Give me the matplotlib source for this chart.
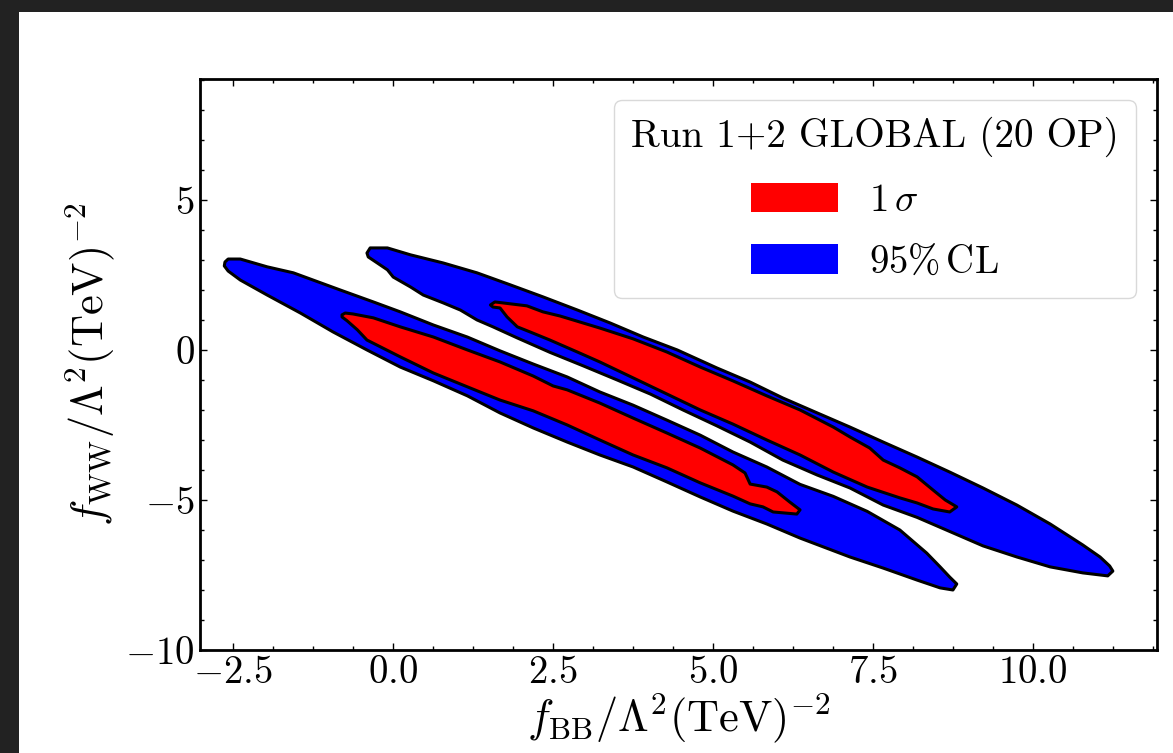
import matplotlib
matplotlib.use("Agg")
import matplotlib.pyplot as plt
from matplotlib.patches import Patch, Rectangle
from matplotlib.ticker import FixedLocator, AutoMinorLocator, MultipleLocator

# ---------------- data ----------------
# left solution, 95% CL region (f_BB, f_WW)
left95_x = [-2.63, -2.58, -2.39, -1.97, -1.56, -0.83, -0.31, 0.11, 0.63, 1.16, 1.67, 2.19, 2.72,
            3.23, 3.75, 4.28, 4.80, 5.31, 5.84, 6.36, 6.88, 7.41, 7.92, 8.34, 8.55, 8.70, 8.81,
            8.75, 8.55, 8.19, 7.66, 7.14, 6.36, 5.84, 5.31, 4.80, 4.28, 3.75, 3.23, 2.72, 2.19,
            1.67, 1.16, 0.63, 0.11, -0.41, -0.94, -1.45, -1.97, -2.39, -2.58, -2.64]
left95_y = [2.93, 3.03, 3.03, 2.77, 2.57, 2.00, 1.60, 1.27, 0.83, 0.43, -0.03, -0.47, -0.90,
            -1.40, -1.84, -2.34, -2.84, -3.40, -3.90, -4.48, -4.88, -5.38, -6.00, -6.77, -7.23, -7.57, -7.80,
            -8.00, -7.93, -7.67, -7.27, -6.90, -6.27, -5.80, -5.37, -4.90, -4.40, -3.90, -3.50, -3.07, -2.60,
            -2.10, -1.53, -1.03, -0.57, 0.00, 0.60, 1.23, 1.83, 2.33, 2.63, 2.80]

# left solution, 1 sigma region
left1s_x = [-0.80, -0.75, -0.63, -0.31, 0.11, 0.63, 1.16, 1.67, 2.19, 2.50, 2.72, 3.23, 3.75,
            4.28, 4.80, 5.31, 5.50, 5.58, 5.84, 6.00, 6.20, 6.36,
            6.31, 5.94, 5.78, 5.58, 5.31, 4.80, 4.28, 3.75, 3.23, 2.72, 2.19, 1.67, 1.16,
            0.63, 0.11, -0.41, -0.56, -0.72, -0.80]
left1s_y = [1.17, 1.23, 1.20, 1.07, 0.77, 0.43, 0.00, -0.40, -0.87, -1.20, -1.33, -1.77, -2.27,
            -2.77, -3.27, -3.83, -4.10, -4.47, -4.57, -4.73, -5.07, -5.33,
            -5.47, -5.40, -5.23, -5.13, -4.87, -4.43, -3.93, -3.50, -3.00, -2.50, -2.03, -1.67, -1.23,
            -0.77, -0.23, 0.33, 0.67, 0.97, 1.10]

# right solution, 95% CL region
right95_x = [-0.41, -0.36, -0.09, 0.27, 0.78, 1.31, 1.83, 2.34, 2.88, 3.39, 3.91, 4.44, 5.06,
             5.58, 6.09, 6.63, 7.14, 7.66, 8.19, 8.70, 9.22, 9.75, 10.27, 10.78, 11.05, 11.20, 11.25,
             11.17, 10.78, 10.27, 9.75, 9.22, 8.70, 8.19, 7.66, 7.14, 6.63, 6.09, 5.58, 5.06,
             4.53, 4.02, 3.50, 2.97, 2.45, 1.94, 1.56, 1.31, 1.05, 0.78, 0.47, 0.27, 0.00,
             -0.09, -0.25, -0.39]
right95_y = [3.23, 3.40, 3.40, 3.17, 2.90, 2.57, 2.17, 1.77, 1.33, 0.90, 0.43, 0.00, -0.60,
             -1.07, -1.60, -2.10, -2.57, -3.07, -3.57, -4.07, -4.60, -5.17, -5.80, -6.50, -6.90, -7.20, -7.37,
             -7.53, -7.43, -7.23, -6.90, -6.53, -6.05, -5.58, -5.17, -4.60, -4.17, -3.67, -3.07, -2.53,
             -2.00, -1.47, -1.00, -0.53, -0.08, 0.40, 0.77, 1.00, 1.33, 1.57, 1.83, 2.10, 2.43,
             2.67, 2.90, 3.10]

# right solution, 1 sigma region
right1s_x = [1.52, 1.59, 2.09, 2.34, 2.61, 3.23, 3.75, 4.28, 4.80, 5.31, 5.84, 6.36, 6.88,
             7.14, 7.45, 7.66, 7.92, 8.19, 8.44, 8.63, 8.81,
             8.70, 8.44, 8.19, 7.92, 7.41, 6.88, 6.36, 5.84, 5.31, 4.80, 4.28, 3.75, 3.23,
             2.88, 2.45, 2.14, 1.94, 1.78, 1.67, 1.56]
right1s_y = [1.50, 1.60, 1.47, 1.27, 1.13, 0.73, 0.37, -0.07, -0.57, -1.03, -1.53, -2.00, -2.57,
             -2.90, -3.27, -3.67, -3.93, -4.23, -4.67, -5.00, -5.23,
             -5.40, -5.30, -5.10, -4.93, -4.57, -4.07, -3.50, -3.00, -2.47, -2.00, -1.47, -0.93, -0.40,
             -0.07, 0.33, 0.60, 0.77, 1.10, 1.40, 1.43]

x_ticks = [-2.5, 0.0, 2.5, 5.0, 7.5, 10.0]
x_tick_labels = [r"$-2.5$", r"$0.0$", r"$2.5$", r"$5.0$", r"$7.5$", r"$10.0$"]
y_ticks = [-10, -5, 0, 5]
y_tick_labels = [r"$-10$", r"$-5$", r"$0$", r"$5$"]

legend_title = "Run 1+2 GLOBAL (20 OP)"
legend_labels = [r"$1\,\sigma$", r"$95\%\,\mathrm{CL}$"]
color_1s = "#ff0000"
color_95 = "#0000ff"

# ---------------- style ----------------
plt.rcParams["font.family"] = "serif"
plt.rcParams["font.serif"] = ["cmr10", "DejaVu Serif"]
plt.rcParams["mathtext.fontset"] = "cm"
plt.rcParams["axes.unicode_minus"] = False

W, H = 1173, 753
fig = plt.figure(figsize=(W / 100, H / 100), dpi=100, facecolor="#222222")
bg = Rectangle((19 / W, 0), 1, 1 - 12 / H, transform=fig.transFigure,
               facecolor="white", edgecolor="none", zorder=-10)
fig.patches.append(bg)

ax = fig.add_axes([200 / W, (H - 650) / H, (1157 - 200) / W, (650 - 79) / H])
ax.set_zorder(1)
ax.patch.set_facecolor("white")

for xs, ys, col in [(left95_x, left95_y, color_95), (right95_x, right95_y, color_95),
                    (left1s_x, left1s_y, color_1s), (right1s_x, right1s_y, color_1s)]:
    ax.fill(xs, ys, facecolor=col, edgecolor="black", linewidth=2.2, joinstyle="round")

ax.set_xlim(-3.02, 11.94)
ax.set_ylim(-10, 9.03)

ax.xaxis.set_major_locator(FixedLocator(x_ticks))
ax.set_xticklabels(x_tick_labels)
ax.xaxis.set_minor_locator(AutoMinorLocator(4))
ax.yaxis.set_major_locator(FixedLocator(y_ticks))
ax.set_yticklabels(y_tick_labels)
ax.yaxis.set_minor_locator(MultipleLocator(1))

ax.tick_params(which="both", direction="in", top=True, right=True, labelsize=28, width=1.0)
ax.tick_params(which="major", length=5, pad=4)
ax.tick_params(which="minor", length=3)
for sp in ax.spines.values():
    sp.set_linewidth(2.0)

ax.set_xlabel(r"$f_{\mathrm{BB}}/\Lambda^2(\mathrm{TeV})^{-2}$", fontsize=32, labelpad=0)
ax.set_ylabel(r"$f_{\mathrm{WW}}/\Lambda^2(\mathrm{TeV})^{-2}$", fontsize=32, labelpad=6)

handles = [Patch(facecolor=color_1s, edgecolor="none"), Patch(facecolor=color_95, edgecolor="none")]
leg = ax.legend(handles, legend_labels, title=legend_title, loc="upper right",
                fontsize=28, title_fontsize=28.2, handlelength=2.25, handleheight=0.8,
                borderpad=0.43, labelspacing=0.65, borderaxespad=0.55, framealpha=1.0)
leg.get_frame().set_edgecolor("#d9d9d9")

fig.savefig("out.png", dpi=100, facecolor=fig.get_facecolor())
